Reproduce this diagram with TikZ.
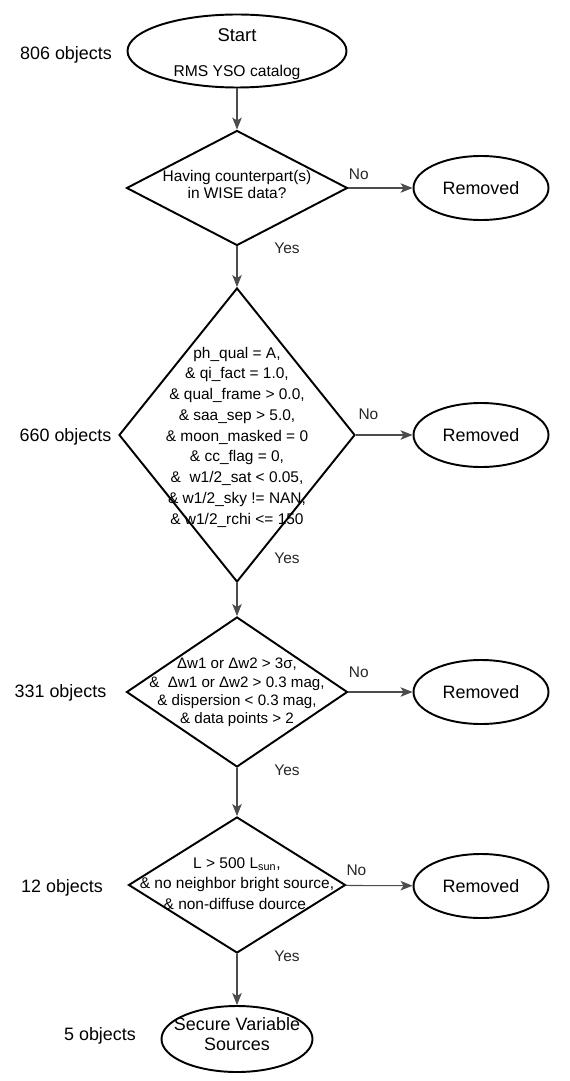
\documentclass[tikz,border=0pt]{standalone}
\usepackage{fontspec}
\setmainfont{Liberation Sans}
\usetikzlibrary{arrows.meta}
\usetikzlibrary{shapes.geometric}
\usetikzlibrary{positioning}

% text of fixed size inside a shape, the shape keeps its own size
\newcommand{\inside}[2][-3.4pt]{\raisebox{#1}{\makebox[0pt]{\smash{\begin{tabular}{@{}c@{}}#2\end{tabular}}}}}

\tikzset{
  terminal/.style={ellipse, draw=black, line width=1.1pt, inner sep=0pt,
    font=\fontsize{10.2}{11.4}\selectfont},
  decision/.style={diamond, draw=black, line width=1.1pt, inner sep=0pt,
    font=\fontsize{8.8}{11}\selectfont},
  count/.style={font=\fontsize{10.2}{12}\selectfont},
  answer/.style={font=\fontsize{8.8}{10}\selectfont, text=black!85},
  flow/.style={draw=black!70, line width=0.6pt, -{Stealth[length=2.4mm, width=1.9mm, inset=0.6mm]}}
}

\begin{document}
\begin{tikzpicture}[x=0.02cm, y=-0.02cm]
    \useasboundingbox (0,0) rectangle (570,1081);

    % Terminals
    \node[terminal, minimum width=219*0.02cm, minimum height=73*0.02cm,
      font=\fontsize{10.5}{19.6}\selectfont] (start) at (237,51)
      {\inside[-6.6pt]{Start\\ \fontsize{8.9}{19.6}\selectfont RMS YSO catalog}};
    \node[terminal, minimum width=151*0.02cm, minimum height=66*0.02cm] (secure) at (237,1039)
      {\inside[-2.3pt]{Secure Variable\\Sources}};

    % Decisions
    \node[decision, minimum width=221*0.02cm, minimum height=115*0.02cm,
      font=\fontsize{8.8}{9.7}\selectfont] (wise) at (237,188)
      {\inside{Having counterpart(s)\\in WISE data?}};
    \node[decision, minimum width=236*0.02cm, minimum height=294*0.02cm,
      font=\fontsize{8.8}{11.8}\selectfont] (quality) at (237,435)
      {\inside[-6.7pt]{ph\_qual = A,\\
        \& qi\_fact = 1.0,\\
        \& qual\_frame > 0.0,\\
        \& saa\_sep > 5.0,\\
        \& moon\_masked = 0\\
        \& cc\_flag = 0,\\
        \&~ w1/2\_sat < 0.05,\\
        \& w1/2\_sky != NAN,\\
        \& w1/2\_rchi <= 150}};
    \node[decision, minimum width=221*0.02cm, minimum height=150*0.02cm,
      font=\fontsize{8.6}{10.4}\selectfont] (variab) at (237,692)
      {\inside[-5.1pt]{Δw1 or Δw2 > 3σ,\\
        \&~ Δw1 or Δw2 > 0.3 mag,\\
        \& dispersion < 0.3 mag,\\
        \& data points > 2}};
    \node[decision, minimum width=217*0.02cm, minimum height=136*0.02cm,
      font=\fontsize{8.8}{11.6}\selectfont] (lumin) at (237,885)
      {\inside[-4.2pt]{L > 500 L\textsubscript{sun},\\
        \& no neighbor bright source,\\
        \& non-diffuse dource.}};

    % Removed ends
    \foreach \name/\y in {rmwise/188, rmquality/435, rmvariab/692, rmlumin/886}
      \node[terminal, minimum width=135*0.02cm, minimum height=64*0.02cm] (\name) at (481,\y) {Removed};

    % Counts
    \node[count] (n806) at (66,55) {806 objects};
    \node[count] (n660) at (65.5,437) {660 objects};
    \node[count] (n331) at (60.5,693) {331 objects};
    \node[count] (n12) at (62,888) {12 objects};
    \node[count] (n5) at (100,1036) {5 objects};

    % Connectors
    \draw[flow] (start) -- (wise);
    \draw[flow] (wise) -- node[answer, pos=0.05, right=0.62cm] {Yes} (quality);
    \draw[flow] (quality) -- node[answer, pos=0, right=0.62cm, yshift=0.5cm] {Yes} (variab);
    \draw[flow] (variab) -- node[answer, pos=0.05, right=0.62cm] {Yes} (lumin);
    \draw[flow] (lumin) -- node[answer, pos=0.05, right=0.62cm] {Yes} (secure);
    \draw[flow] (wise) -- node[answer, pos=0.16, above=0.04cm] {No} (rmwise);
    \draw[flow] (quality) -- node[answer, pos=0.22, above=0.17cm] {No} (rmquality);
    \draw[flow] (variab) -- node[answer, pos=0.16, above=0.16cm] {No} (rmvariab);
    \draw[flow] (lumin) -- node[answer, pos=0.16, above=0.06cm] {No} (rmlumin);
\end{tikzpicture}
\end{document}
